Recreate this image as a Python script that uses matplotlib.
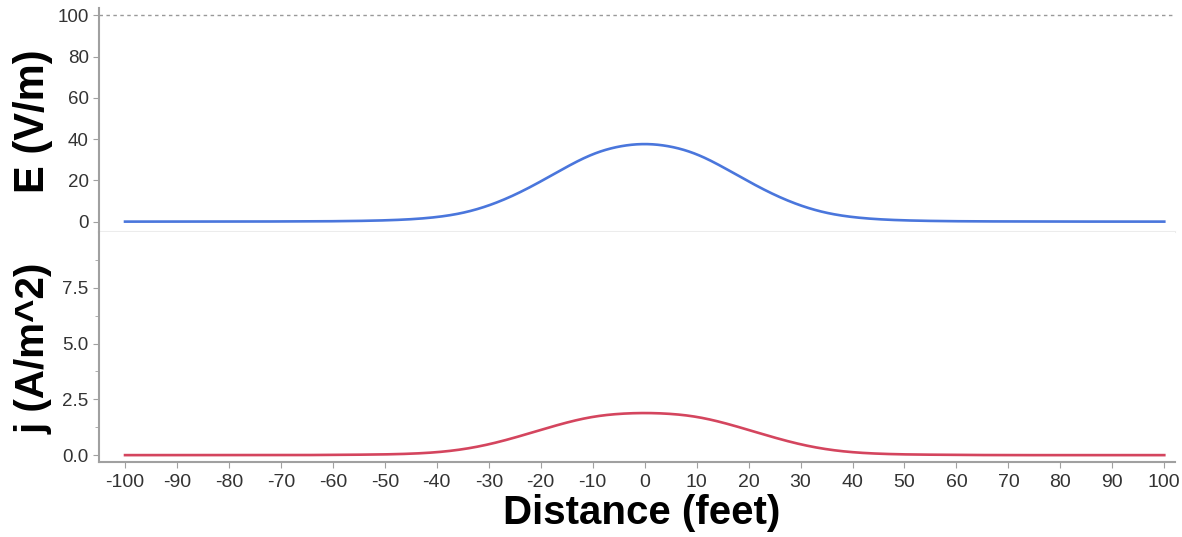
import matplotlib
matplotlib.use("Agg")
import matplotlib.pyplot as plt
import numpy as np

plt.rcParams['font.family'] = ['Liberation Sans', 'DejaVu Sans']
plt.rcParams['axes.unicode_minus'] = False

# distance (feet) and values (symmetric about 0)
distance = [-100, -90, -80, -70, -60, -55, -50, -45, -40, -35, -30, -25, -20, -15, -10, -5,
            0, 5, 10, 15, 20, 25, 30, 35, 40, 45, 50, 55, 60, 70, 80, 90, 100]
e_field = [0.02, 0.03, 0.05, 0.1, 0.2, 0.35, 0.6, 1.1, 2.1, 4.0, 7.6, 12.8, 19.4, 26.6, 33.2, 36.7,
           38.1, 36.7, 33.2, 26.6, 19.4, 12.8, 7.6, 4.0, 2.1, 1.1, 0.6, 0.35, 0.2, 0.1, 0.05, 0.03, 0.02]
j_density = [0.0, 0.0, 0.0, 0.0, 0.01, 0.02, 0.03, 0.06, 0.12, 0.25, 0.47, 0.78, 1.13, 1.47, 1.74, 1.86,
             1.90, 1.86, 1.74, 1.47, 1.13, 0.78, 0.47, 0.25, 0.12, 0.06, 0.03, 0.02, 0.01, 0.0, 0.0, 0.0, 0.0]
x_ticks = list(range(-100, 101, 10))


def smooth_curve(x, y, n=801, sigma=3.0):
    # cubic hermite through the read points, then a light gaussian blur
    x = np.asarray(x, float)
    y = np.asarray(y, float)
    m = np.gradient(y, x)
    xs = np.linspace(x[0], x[-1], n)
    i = np.clip(np.searchsorted(x, xs) - 1, 0, len(x) - 2)
    h = x[i + 1] - x[i]
    t = (xs - x[i]) / h
    h00 = 2 * t**3 - 3 * t**2 + 1
    h10 = t**3 - 2 * t**2 + t
    h01 = -2 * t**3 + 3 * t**2
    h11 = t**3 - t**2
    ys = h00 * y[i] + h10 * h * m[i] + h01 * y[i + 1] + h11 * h * m[i + 1]
    dx = xs[1] - xs[0]
    half = int(4 * sigma / dx)
    kx = np.arange(-half, half + 1) * dx
    k = np.exp(-kx**2 / (2 * sigma**2))
    k /= k.sum()
    ys = np.convolve(np.pad(ys, half, mode='edge'), k, mode='valid')
    return xs, ys


spine_col = '#a0a0a0'
tick_col = '#333333'

fig = plt.figure(figsize=(11.82, 5.37), dpi=100)
ax1 = fig.add_axes([0.0838, 0.568, 0.91, 0.417])
ax2 = fig.add_axes([0.0838, 0.140, 0.91, 0.428])

for ax in (ax1, ax2):
    ax.set_xlim(-105, 102)
    for s in ['top', 'right']:
        ax.spines[s].set_visible(False)
    ax.spines['left'].set_color(spine_col)
    ax.spines['left'].set_linewidth(1.5)
    ax.tick_params(axis='both', colors=spine_col, labelcolor=tick_col, labelsize=13.5, length=4)

# top panel
xs, ys = smooth_curve(distance, e_field)
ax1.plot(xs, ys, color='#4a76dc', lw=1.9)
ax1.axhline(100, color='#999999', lw=1, ls=(0, (2.5, 2.5)))
ax1.set_ylim(-5, 103.5)
ax1.set_yticks([0, 20, 40, 60, 80, 100])
ax1.spines['bottom'].set_color('#ececec')
ax1.spines['bottom'].set_linewidth(1.5)
ax1.tick_params(axis='x', bottom=False, labelbottom=False)

# bottom panel
xs, ys = smooth_curve(distance, j_density)
ax2.plot(xs, ys, color='#d4455e', lw=1.9)
ax2.set_ylim(-0.3, 10)
ax2.set_yticks([0, 2.5, 5.0, 7.5])
ax2.set_yticklabels(['0.0', '2.5', '5.0', '7.5'])
ax2.set_yticks([1.25, 3.75, 6.25, 8.75], minor=True)
ax2.tick_params(axis='y', which='minor', colors=spine_col, length=3)
ax2.spines['bottom'].set_color(spine_col)
ax2.spines['bottom'].set_linewidth(1.5)
ax2.set_xticks(x_ticks)
ax2.tick_params(axis='x', labelsize=14, pad=5)

fig.text(0.028, 0.775, 'E (V/m)', rotation=90, fontsize=30, fontweight='bold', ha='center', va='center')
fig.text(0.028, 0.352, 'j (A/m^2)', rotation=90, fontsize=29, fontweight='bold', ha='center', va='center')
fig.text(0.543, 0.044, 'Distance (feet)', fontsize=29, fontweight='bold', ha='center', va='center')

fig.savefig('out.png', dpi=100)
